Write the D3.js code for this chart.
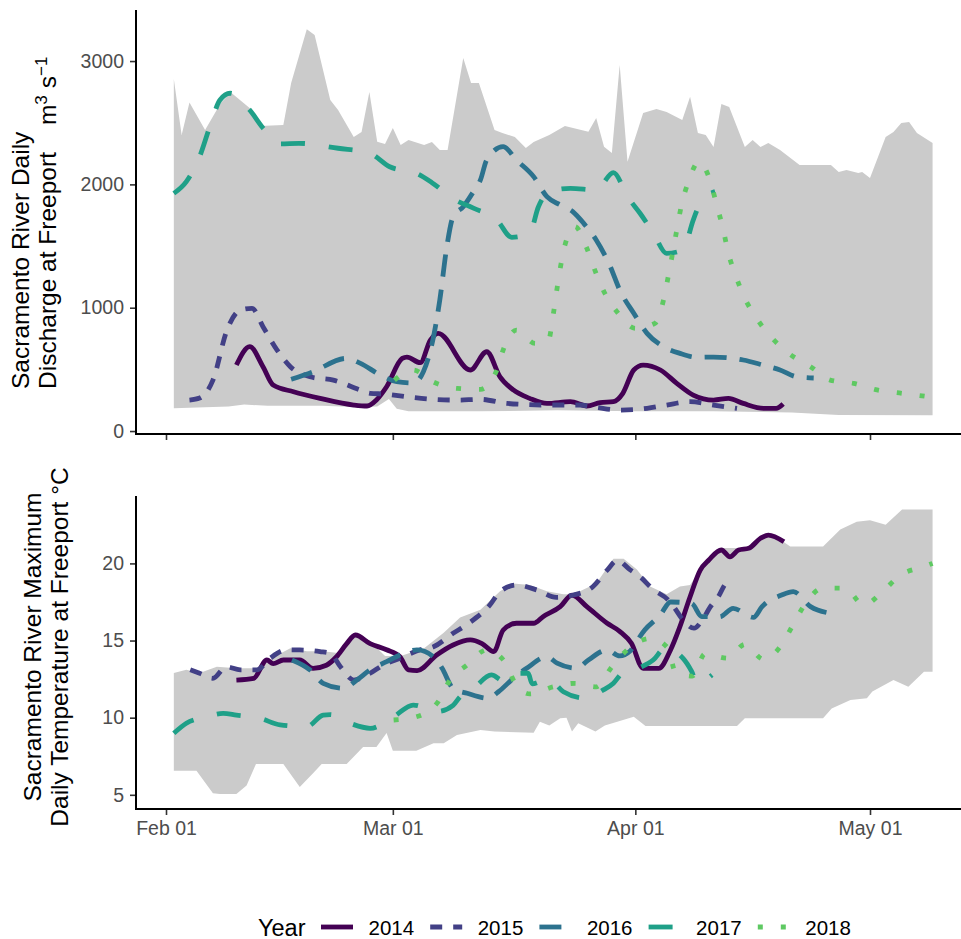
<!DOCTYPE html>
<html>
<head>
<meta charset="utf-8">
<script src="https://cdn.jsdelivr.net/npm/d3@7"></script>
<style>
  body { margin: 0; background: #fff; }
  text { font-family: "Liberation Sans", Arial, sans-serif; }
</style>
</head>
<body>
<svg width="961" height="939"></svg>
<script>
// values; day = days after Feb 01
var years = ["2014", "2015", "2016", "2017", "2018"];
var tickDates = ["2016-02-01", "2016-03-01", "2016-04-01", "2016-05-01"];
var flowTicks = [0, 1000, 2000, 3000];
var tempTicks = [5, 10, 15, 20];

// discharge envelope (m3/s)
var flowUpper = [[1,2855],[2,2400],[3,2663],[5,2441],[7,2660],[8.3,2745],[11,2603],[12,2474],[15,2482],[16,2822],[18,3258],[19,3212],[21,2684],[22,2603],[24,2384],[25,2425],[26,2750],[27,2346],[28,2327],[29,2457],[30,2320],[31,2360],[33,2320],[34,2344],[35,2279],[36,2279],[38,3025],[39,2822],[40,2822],[42,2441],[43,2417],[44.6,2384],[46,2295],[47,2344],[49,2400],[51,2474],[54,2427],[55,2538],[56,2306],[57,2255],[58,2968],[59,2184],[61,2579],[62.7,2611],[64,2587],[66,2522],[67,2711],[68,2417],[69,2400],[70,2303],[71,2652],[72,2628],[74,2303],[75,2360],[76,2303],[77,2336],[78.5,2279],[81,2157],[85,2157],[86,2100],[87,2117],[88.5,2092],[89,2100],[90,2052],[92,2384],[93,2425],[94,2498],[95,2506],[96,2417],[98,2336]];
var flowLower = [[1,184],[8,200],[10,215],[13,205],[20,205],[24,195],[27,200],[28.5,260],[29.5,180],[31,160],[40,160],[50,168],[60,160],[70,160],[80,150],[86,130],[98,128]];

var flow2014 = [[9,535],[10.7,684],[12.4,522],[13.7,373],[16.3,319],[19.7,265],[24,211],[25.7,203],[26.9,251],[28.2,359],[30.2,589],[30.8,600],[32.5,554],[33.8,738],[34.8,792],[38.9,495],[41,643],[42.7,440],[44.4,333],[46.5,265],[48.7,224],[51.7,238],[53.8,203],[55.5,230],[57.2,238],[58.4,306],[59.8,495],[61,535],[63.2,495],[65.3,387],[67.4,292],[70,251],[71.9,265],[73.8,224],[76.4,184],[78,184],[78.9,219]];
var flow2015 = [[3,251],[4.3,267],[6,413],[7.8,819],[9.5,981],[11,995],[12.4,846],[14.2,657],[15.9,522],[18.4,440],[21.4,413],[24.8,333],[26.1,306],[28,300],[30.8,278],[34.2,257],[37.2,251],[40.2,257],[43.6,224],[48.7,211],[52.9,211],[55,192],[58,170],[61.5,184],[64,211],[67,238],[70,211],[73,184]];
var flow2016 = [[16,419],[18.8,481],[23,589],[24.8,551],[27.4,454],[29.5,400],[31.6,389],[32.9,481],[34.2,765],[35,1062],[35.9,1495],[36.7,1738],[38,1819],[39.3,1941],[40.2,2036],[41,2198],[43.1,2306],[44.8,2198],[47,2063],[48.7,1900],[50.4,1833],[52,1779],[53.4,1684],[55,1549],[56.8,1333],[58,1144],[59.8,955],[61.5,792],[63.6,684],[65.7,630],[67.9,598],[70,600],[73.8,576],[76.3,535],[78.5,495],[80.6,440],[82.8,430]];
var flow2017 = [[1,1927],[2.6,2022],[4.3,2225],[5.6,2468],[6.9,2684],[8.2,2739],[10.7,2603],[12.4,2457],[14.6,2328],[17,2333],[22,2293],[26,2254],[28.6,2143],[32,2090],[34,2014],[37,1873],[39.3,1808],[42.3,1711],[44.2,1571],[46.5,1606],[47.6,1817],[49,1941],[51.7,1968],[55,1955],[57.2,2095],[59,1900],[60.6,1766],[62.3,1606],[64,1441],[66.1,1468],[67.4,1711],[68.5,1873],[70.2,1941]];
var flow2018 = [[29.2,413],[31.6,495],[34.1,400],[37.2,346],[40.2,338],[42.2,481],[43.1,657],[44.8,819],[47.2,711],[48.9,738],[49.5,941],[49.9,1117],[50.4,1320],[51,1508],[52.3,1657],[53.8,1482],[54.9,1292],[56.1,1117],[57.8,955],[60,833],[62.5,873],[63.6,1062],[64.2,1251],[65.3,1630],[65.9,1833],[66.8,2022],[68.1,2184],[69.6,2022],[70.4,1833],[71.2,1644],[71.9,1441],[72.8,1265],[74,1076],[75.5,914],[77.5,752],[79.6,630],[82.4,522],[84.9,413],[87.9,387],[90.9,333],[94.1,306],[97.5,278]];

// maximum daily temperature envelope (deg C)
var tempUpper = [[1,12.9],[2.6,13.1],[4.3,12.9],[6.5,13.3],[9,13.2],[12,13.2],[14,14.0],[15.9,14.5],[18,14.3],[20,14.3],[22,14.2],[24.2,15.4],[26,15.0],[28,14.0],[30,14.0],[33,14.5],[35.5,15.5],[37.6,16.5],[40.2,17.0],[42.7,18.2],[44.4,18.7],[46.5,18.6],[48.7,18.2],[50.8,18.0],[52.1,18.0],[55,18.7],[57.2,20.3],[58.5,20.3],[60.2,19.6],[61.9,18.5],[64,18.0],[65.7,18.5],[67,18.6],[69.1,20.2],[70.8,21.0],[73,21.0],[74.2,21.0],[76.8,21.9],[77.5,21.9],[79.8,21.1],[84,21.1],[86.2,22.2],[88.3,22.7],[90,22.8],[92,22.5],[94.1,23.5],[98,23.5]];
var tempLower = [[1,6.56],[3.9,6.56],[6,5.1],[6.9,5.05],[9,5.05],[10.3,5.6],[11.5,7.0],[15,7.0],[17.1,5.5],[18.8,6.4],[19.9,7.0],[23.1,7.0],[25.2,8.1],[26.9,8.1],[28.2,9.0],[29,7.86],[32,7.86],[34.2,8.34],[35.5,8.34],[37.2,8.88],[40.2,9.2],[42,9.1],[47,9.03],[47.8,9.74],[49,9.5],[50.4,9.96],[51.2,10.0],[51.9,9.1],[52.7,9.64],[54.9,9.1],[56.1,9.5],[59.8,10.06],[61.3,9.46],[73,9.46],[74,9.96],[84,9.96],[85.1,10.6],[87.5,11.15],[89.6,11.26],[90.3,11.7],[93,12.44],[94.9,12.0],[96.9,12.98],[98,12.98]];

var temp2014 = [[9,12.44],[11.2,12.55],[12.9,13.74],[13.7,13.5],[15,13.74],[17.1,13.74],[18.8,13.2],[20.5,13.4],[21.8,13.95],[23.1,14.8],[24.2,15.36],[26.1,14.8],[28.2,14.4],[29.9,13.95],[31,13.1],[32.1,13.05],[34.6,14.06],[36.7,14.71],[38.9,15.04],[40.4,14.8],[41.9,14.28],[43.1,15.68],[44.8,16.12],[47,16.12],[48.2,16.55],[50.4,17.2],[51.9,17.95],[53.8,17.2],[56.4,16.12],[58,15.6],[59.5,14.82],[61,13.2],[63,13.2],[64.5,14.39],[65.7,15.9],[67,17.84],[68.3,19.57],[69.4,20.22],[71,20.87],[72.1,20.43],[73.2,20.87],[74.5,20.98],[76,21.63],[77,21.84],[79,21.4]];
var temp2015 = [[3.1,13.1],[4.3,12.88],[6,12.55],[7.7,13.3],[9.5,13.1],[11.6,13.1],[13.3,13.85],[15.4,14.39],[17.1,14.39],[19.7,14.28],[21,14.17],[22.3,13.3],[24,12.44],[26.1,12.88],[27.8,13.42],[29.9,13.85],[32.5,14.4],[34.2,14.6],[36.7,15.47],[38.7,16.12],[41.4,17.3],[42.7,18.17],[44.8,18.6],[47.4,18.28],[49.9,17.8],[52.1,17.95],[54.6,18.5],[56.4,19.57],[57.7,20.2],[59.3,19.6],[60.6,19.14],[62.3,18.3],[64.2,17.63],[64.9,17.2],[66.1,16.33],[67.5,15.8],[68.7,16.44],[69.6,17.2],[70.6,17.84],[71.7,18.7],[72.5,18.5]];
var temp2016 = [[16.1,13.74],[18.4,13.1],[20.1,12.23],[22.7,11.9],[24.4,12.44],[26.1,13.1],[28.2,13.63],[29.9,14.06],[32.1,14.39],[34.4,13.85],[35.3,13.2],[36.7,11.9],[38.5,11.58],[41.2,11.26],[42.5,11.68],[44.4,12.55],[46.1,13.2],[48.7,13.95],[50,13.53],[52.5,13.2],[54,13.74],[56.4,14.39],[58,14.0],[59.3,14.3],[60,14.82],[61.2,15.68],[63.2,16.66],[64.5,17.5],[67.2,17.4],[68.5,16.55],[70.8,16.55],[72.5,17.09],[75.1,16.5],[76.2,17.2],[78.7,17.95],[80.2,18.17],[82.4,17.2],[84.9,16.77]];
var temp2017 = [[1,8.99],[2.6,9.64],[5.2,10.06],[7.3,10.28],[9,10.17],[12,9.96],[14.6,9.53],[18,9.42],[20.1,10.17],[21,10.2],[23.5,9.64],[26.1,9.31],[29.1,10.06],[31.6,10.82],[34.7,10.4],[36.7,10.8],[37.6,11.36],[39.3,11.9],[41.6,12.77],[43.1,12.4],[44.6,12.88],[46.3,12.88],[46.8,12.2],[48.5,12.44],[49.5,12.3],[50.8,11.68],[53.6,11.26],[54.5,11.4],[55.9,11.8],[57.2,12.23],[58.3,12.88],[60.8,13.3],[62.3,13.74],[63.8,14.5],[66.1,13.85],[67.2,13.0],[67.9,12.23],[69.8,12.77]];
var temp2018 = [[29.1,9.85],[32,10.06],[34.8,11.04],[36.3,12.44],[38.5,13.42],[41,14.39],[43.3,13.63],[44.6,12.27],[46.5,11.54],[49.5,12.0],[52.3,12.23],[55,12.0],[57,13.3],[59.1,14.45],[61.9,15.14],[64.2,14.5],[65.1,12.98],[67.3,12.7],[68.9,14.13],[71.8,13.85],[74,14.75],[76.4,13.78],[78.6,14.65],[80.1,15.96],[81.7,17.37],[84,18.4],[86.8,18.39],[89.2,17.3],[91.6,18.17],[93.9,19.25],[96.9,19.79],[98,20.0]];

var flowSeries = [flow2014, flow2015, flow2016, flow2017, flow2018];
var tempSeries = [temp2014, temp2015, temp2016, temp2017, temp2018];

// styles
var colors = [0, 0.1875, 0.375, 0.5625, 0.75].map(d3.interpolateViridis);
var dashes = [null, "12,11", "22,13", "24,24", "5,18"];

var svg = d3.select("svg");
var feb1 = Date.UTC(2016, 1, 1);
function toDate(d) { return new Date(feb1 + d * 864e5); }

var x = d3.scaleUtc()
  .domain([new Date(feb1), new Date(Date.UTC(2016, 4, 1))])
  .range([166, 870]);

var panelLeft = 136, panelRight = 961;

var panels = [
  { top: 10, bottom: 434, domain: [-24, 3414], ticks: flowTicks,
    upper: flowUpper, lower: flowLower, series: flowSeries, labels: false },
  { top: 496, bottom: 809, domain: [4.08, 24.37], ticks: tempTicks,
    upper: tempUpper, lower: tempLower, series: tempSeries, labels: true }
];

panels.forEach(function(p) {
  var y = d3.scaleLinear().domain(p.domain).range([p.bottom, p.top]);
  var g = svg.append("g");

  // envelope polygon: upper edge forward, lower edge back
  var ring = p.upper.concat(p.lower.slice().reverse());
  var poly = d3.line()
    .x(function(d) { return x(toDate(d[0])); })
    .y(function(d) { return y(d[1]); });
  g.append("path")
    .attr("d", poly(ring) + "Z")
    .attr("fill", "#cbcbcb");

  var line = d3.line()
    .curve(d3.curveMonotoneX)
    .x(function(d) { return x(toDate(d[0])); })
    .y(function(d) { return y(d[1]); });

  p.series.forEach(function(s, i) {
    g.append("path")
      .attr("d", line(s))
      .attr("fill", "none")
      .attr("stroke", colors[i])
      .attr("stroke-width", 4.8)
      .attr("stroke-linecap", "butt")
      .attr("stroke-linejoin", "round")
      .attr("stroke-dasharray", dashes[i]);
  });

  // y axis
  var ya = g.append("g")
    .attr("transform", "translate(" + panelLeft + ",0)")
    .call(d3.axisLeft(y).tickValues(p.ticks).tickFormat(d3.format("d"))
      .tickSize(6).tickSizeOuter(0));
  ya.select(".domain").remove();
  ya.selectAll(".tick line").attr("stroke", "#333").attr("stroke-width", 1.6);
  ya.selectAll(".tick text")
    .attr("x", -12)
    .attr("fill", "#4d4d4d")
    .style("font-size", "19.5px")
    .style("font-family", "'Liberation Sans', Arial, sans-serif");

  // x axis
  var xa = g.append("g")
    .attr("transform", "translate(0," + p.bottom + ")")
    .call(d3.axisBottom(x)
      .tickValues(tickDates.map(function(t) { return new Date(t + "T00:00:00Z"); }))
      .tickFormat(d3.utcFormat("%b %d"))
      .tickSize(6).tickSizeOuter(0));
  xa.select(".domain").remove();
  xa.selectAll(".tick line").attr("stroke", "#333").attr("stroke-width", 1.6);
  xa.selectAll(".tick text")
    .attr("y", 26)
    .attr("dy", 0)
    .attr("fill", "#4d4d4d")
    .style("font-size", "19.5px")
    .style("font-family", "'Liberation Sans', Arial, sans-serif")
    .style("visibility", p.labels ? "visible" : "hidden");

  // axis lines
  g.append("line")
    .attr("x1", panelLeft).attr("x2", panelLeft)
    .attr("y1", p.top).attr("y2", p.bottom + 1)
    .attr("stroke", "#000").attr("stroke-width", 2);
  g.append("line")
    .attr("x1", panelLeft - 1).attr("x2", panelRight)
    .attr("y1", p.bottom).attr("y2", p.bottom)
    .attr("stroke", "#000").attr("stroke-width", 2);
});

// y axis titles
var t1 = svg.append("g").style("font-size", "24.5px").attr("fill", "#000");
t1.append("text")
  .attr("transform", "translate(29,389) rotate(-90)")
  .text("Sacramento River Daily");
var t2 = t1.append("text")
  .attr("transform", "translate(56,389) rotate(-90)");
t2.append("tspan").text("Discharge at Freeport");
t2.append("tspan").attr("dx", 27).text("m");
t2.append("tspan").attr("dy", -9).style("font-size", "17px").text("3");
t2.append("tspan").attr("dx", 7).attr("dy", 9).text("s");
t2.append("tspan").attr("dy", -9).style("font-size", "17px").text("\u22121");

t1.append("text")
  .attr("transform", "translate(40.5,647) rotate(-90)")
  .attr("text-anchor", "middle")
  .text("Sacramento River Maximum");
t1.append("text")
  .attr("transform", "translate(67.5,647) rotate(-90)")
  .attr("text-anchor", "middle")
  .text("Daily Temperature at Freeport \u00b0C");

// legend
var legend = svg.append("g").attr("id", "legend");
legend.append("text")
  .attr("x", 258).attr("y", 935.5)
  .style("font-size", "23.5px")
  .text("Year");

var item = legend.selectAll("g.item")
  .data(years)
  .enter()
  .append("g")
  .attr("class", "item")
  .attr("transform", function(d, i) { return "translate(" + (321 + i * 109.2) + ",0)"; });

item.append("line")
  .attr("x1", 0).attr("x2", 32)
  .attr("y1", 927).attr("y2", 927)
  .attr("stroke", function(d, i) { return colors[i]; })
  .attr("stroke-width", 4.8)
  .attr("stroke-dasharray", function(d, i) { return dashes[i]; });

item.append("text")
  .attr("x", 47.5).attr("y", 935)
  .style("font-size", "20.5px")
  .text(function(d) { return d; });
</script>
</body>
</html>
